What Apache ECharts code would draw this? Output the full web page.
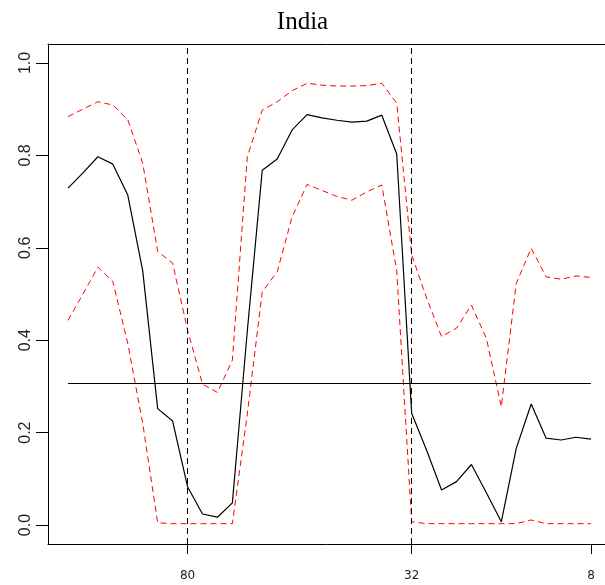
<!DOCTYPE html>
<html>
<head>
<meta charset="utf-8">
<script src="https://cdn.jsdelivr.net/npm/echarts@6/dist/echarts.min.js"></script>
<style>
html,body{margin:0;padding:0;background:#fff;}
#chart{width:605px;height:585px;}
</style>
</head>
<body>
<div id="chart"></div>
<script>
// x positions (index 0..35); tick labels at selected indices
var xIndex = [];
for (var k = 0; k < 36; k++) xIndex.push(k);
var tickPositions = [8, 23, 35];
var tickLabels = ['80', '32', '8'];
var yTicks = [0, 0.2, 0.4, 0.6, 0.8, 1.0];

var meanValues = [0.729, 0.762, 0.797, 0.781, 0.714, 0.55, 0.252, 0.225, 0.083, 0.024,
  0.017, 0.048, 0.42, 0.768, 0.792, 0.855, 0.888, 0.881, 0.876, 0.872,
  0.874, 0.887, 0.803, 0.242, 0.162, 0.076, 0.094, 0.131, 0.07, 0.007,
  0.166, 0.262, 0.188, 0.184, 0.190, 0.186];
var upperValues = [0.884, 0.90, 0.916, 0.909, 0.877, 0.783, 0.592, 0.567, 0.422, 0.305,
  0.287, 0.357, 0.797, 0.898, 0.916, 0.940, 0.956, 0.952, 0.950, 0.950,
  0.951, 0.956, 0.913, 0.585, 0.491, 0.408, 0.426, 0.476, 0.404, 0.256,
  0.523, 0.599, 0.537, 0.532, 0.539, 0.536];
var lowerValues = [0.443, 0.50, 0.558, 0.527, 0.393, 0.22, 0.005, 0.003, 0.003, 0.003,
  0.003, 0.003, 0.24, 0.505, 0.548, 0.667, 0.737, 0.724, 0.711, 0.703,
  0.721, 0.736, 0.55, 0.007, 0.003, 0.003, 0.003, 0.003, 0.003, 0.003,
  0.003, 0.011, 0.003, 0.003, 0.003, 0.003];
var thresholdValue = 0.307;
var breakPositions = [8, 23];

function pairs(vals) {
  return vals.map(function (v, i) { return [xIndex[i], v]; });
}

var chart = echarts.init(document.getElementById('chart'), null, {renderer: 'canvas'});
var xMin = -1.34, xMax = 35.94;
var option = {
  animation: false,
  backgroundColor: '#fff',
  title: {
    text: 'India',
    left: 'center',
    top: 5,
    textStyle: {fontFamily: 'Liberation Serif', fontSize: 25, fontWeight: 'normal', color: '#000'}
  },
  grid: {
    left: 48, right: 0, top: 44, bottom: 41, show: false
  },
  xAxis: [{
    type: 'value', min: xMin, max: xMax, position: 'bottom',
    axisLine: {show: true, onZero: false, lineStyle: {color: '#000', width: 1}},
    axisTick: {show: true, length: 10, customValues: tickPositions, lineStyle: {color: '#000'}},
    axisLabel: {
      show: true, margin: 26, customValues: tickPositions,
      fontFamily: 'DejaVu Sans', fontSize: 12, color: '#222',
      formatter: function (v) {
        var idx = tickPositions.indexOf(Math.round(v));
        return idx >= 0 ? tickLabels[idx] : '';
      }
    },
    splitLine: {show: false}
  }, {
    type: 'value', min: xMin, max: xMax, position: 'top',
    axisLine: {show: true, onZero: false, lineStyle: {color: '#000', width: 1}},
    axisTick: {show: false}, axisLabel: {show: false}, splitLine: {show: false}
  }],
  yAxis: {
    type: 'value', min: -0.041, max: 1.041,
    axisLine: {show: true, onZero: false, lineStyle: {color: '#000', width: 1}},
    axisTick: {show: true, length: 12, customValues: yTicks, lineStyle: {color: '#000'}},
    axisLabel: {
      show: true, margin: 14, rotate: 90, customValues: yTicks,
      fontFamily: 'Liberation Sans', fontSize: 16, color: '#222',
      formatter: function (v) { return v.toFixed(1); }
    },
    splitLine: {show: false}
  },
  series: [
    {
      type: 'line', data: pairs(upperValues), symbol: 'none',
      lineStyle: {color: '#ff0000', width: 1, type: [6, 4]}
    },
    {
      type: 'line', data: pairs(lowerValues), symbol: 'none',
      lineStyle: {color: '#ff0000', width: 1, type: [6, 4]}
    },
    {
      type: 'line', data: pairs(meanValues), symbol: 'none',
      lineStyle: {color: '#000', width: 1.2},
      markLine: {
        silent: true, symbol: 'none', label: {show: false},
        data: [
          [{coord: [xIndex[0], thresholdValue], lineStyle: {type: 'solid', color: '#000', width: 1.2}},
           {coord: [xIndex[xIndex.length - 1], thresholdValue]}],
          {xAxis: breakPositions[0], lineStyle: {type: [6, 4], color: '#000', width: 1}},
          {xAxis: breakPositions[1], lineStyle: {type: [6, 4], color: '#000', width: 1}}
        ]
      }
    }
  ]
};
chart.setOption(option);
</script>
</body>
</html>
